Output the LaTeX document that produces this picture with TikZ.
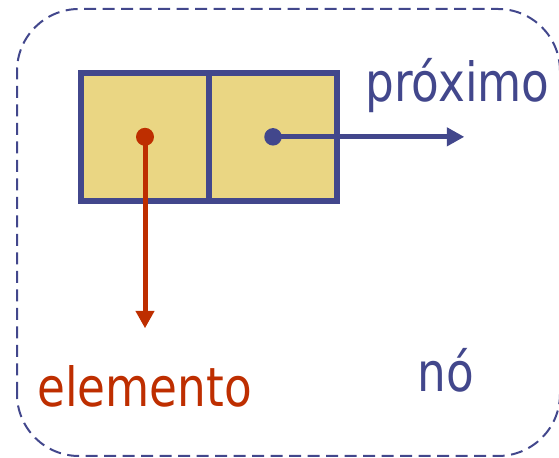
\documentclass[tikz,border=0pt]{standalone}
\usepackage{fontspec}
\usepackage{tikz}
\usetikzlibrary{positioning,arrows.meta}
\newfontfamily\slidefont{DejaVu Sans}[FakeStretch=0.84]
\definecolor{nodeblue}{RGB}{66,71,140}
\definecolor{elemred}{RGB}{190,46,0}
\definecolor{cellfill}{RGB}{234,214,131}

\begin{document}
\begin{tikzpicture}[
		cell/.style={draw=nodeblue, fill=cellfill, line width=0.12cm, outer sep=0pt, inner sep=0pt, minimum width=2.56cm, minimum height=2.555cm},
		ptr/.style={line width=0.1cm, -{Triangle[length=0.35cm,width=0.36cm]}},
		lbl/.style={font=\slidefont\fontsize{30.7}{36}\selectfont, anchor=base, inner sep=0pt}
	]
			\useasboundingbox (0,0) rectangle (11.18,9.16);
			\draw[nodeblue, line width=0.04cm, dash pattern=on 0.24cm off 0.13cm, rounded corners=1.24cm] (0.34,0.04) rectangle (11.2,8.98); % draw dashed outline of the node
			\node[cell] (elem) at (2.9,6.423) {}; % element field
			\node[cell, right=0pt of elem] (prox) {}; % next field
			\coordinate (elemtip) at (2.9,2.594);
			\coordinate (proxtip) at (9.286,6.423);
			\draw[ptr, elemred] (elem.center) -- (elemtip); % arrow to element
			\draw[ptr, nodeblue] (prox.center) -- (proxtip); % arrow to next node
			\fill[elemred] (elem.center) circle (0.18); % draw dots
			\fill[nodeblue] (prox.center) circle (0.175);
			\node[lbl, text=nodeblue] (proxlabel) at (9.15,7.12) {próximo};
			\node[lbl, text=elemred] (elemlabel) at (2.89,1.02) {elemento};
			\node[lbl, text=nodeblue] (nolabel) at (8.91,1.33) {nó};
		\end{tikzpicture}
\end{document}
